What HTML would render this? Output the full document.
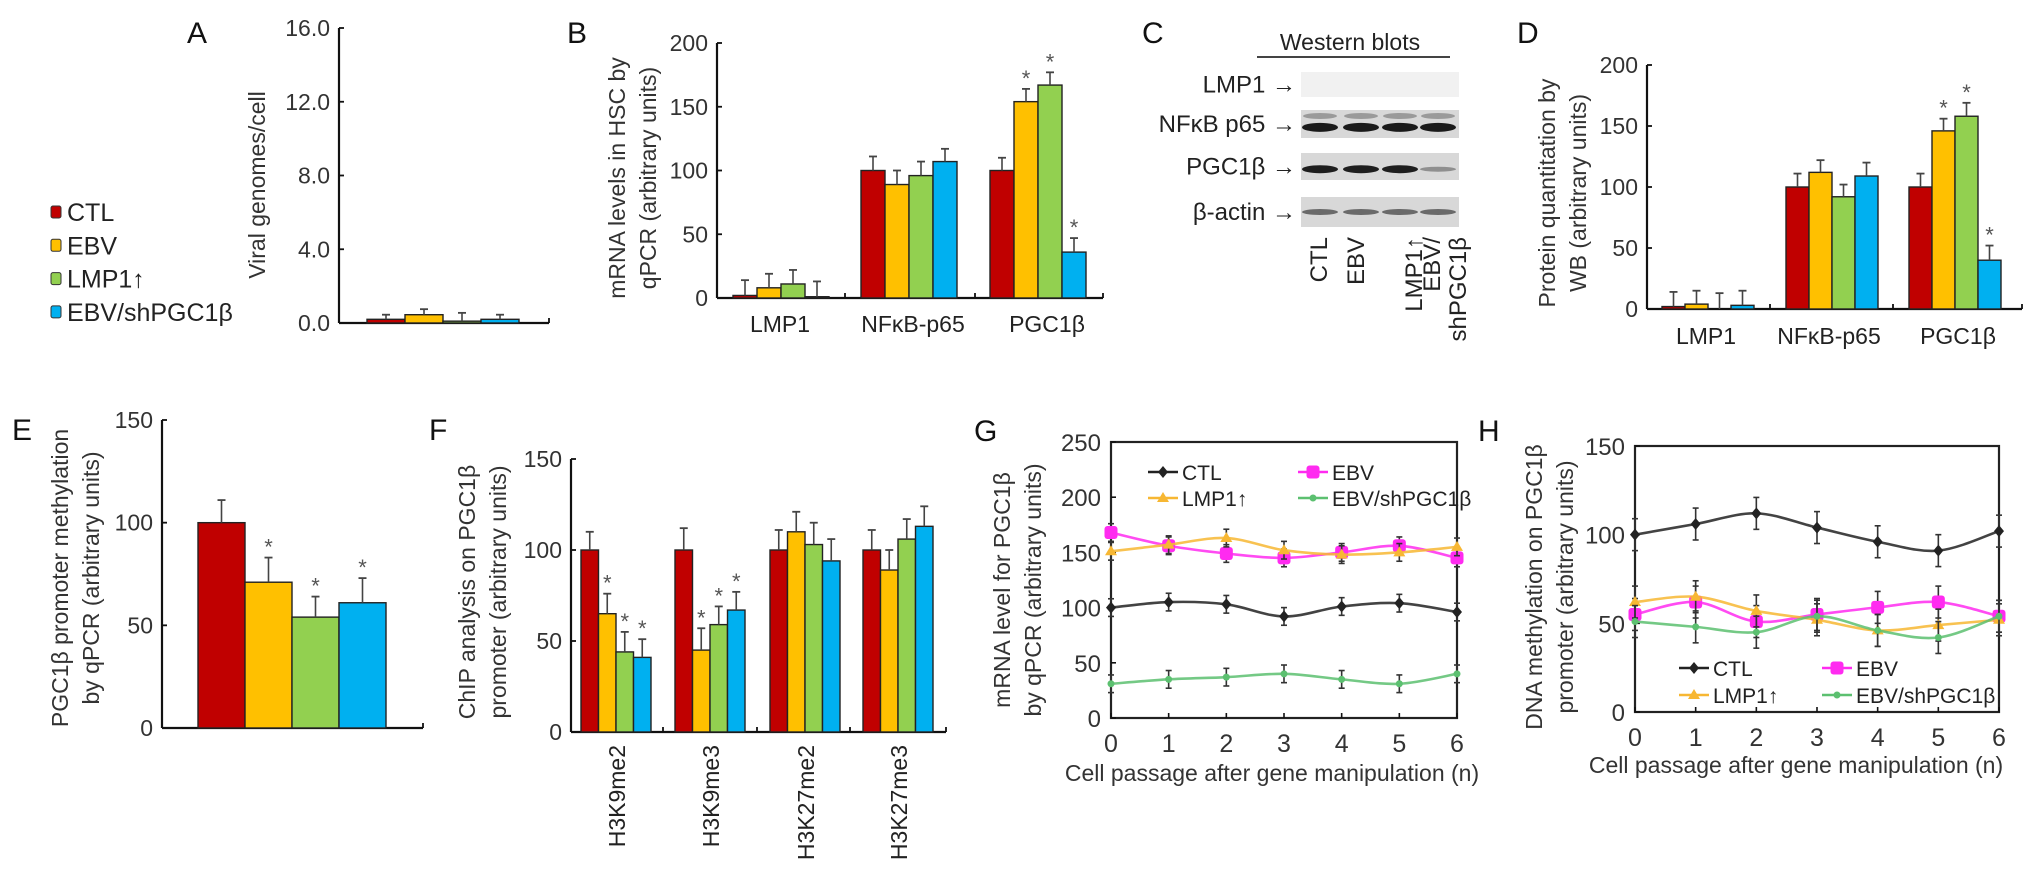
<!DOCTYPE html>
<html><head><meta charset="utf-8"><style>
html,body{margin:0;padding:0;background:#fff;}
svg{display:block;font-family:"Liberation Sans",sans-serif;}
</style></head><body>
<svg id="fig" width="2032" height="876" viewBox="0 0 2032 876" xmlns="http://www.w3.org/2000/svg"></svg>
<script>
const groupNames = ["CTL","EBV","LMP1\u2191","EBV/shPGC1\u03b2"];
const barColors = ["#c00000","#ffc000","#92d050","#00b0f0"];
// Panel A
const aValues = [0.2,0.45,0.1,0.2];
const aErrors = [0.25,0.3,0.45,0.25];
const aTicks = ["0.0","4.0","8.0","12.0","16.0"];
// Panel B
const bCats = ["LMP1","NF\u03baB-p65","PGC1\u03b2"];
const bValues = [[2,8,11,1],[100,89,96,107],[100,154,167,36]];
const bErrors = [[12,11,11,12],[11,11,11,10],[10,10,10,11]];
const bStars = [[0,0,0,0],[0,0,0,0],[0,1,1,1]];
const bTicks = [0,50,100,150,200];
// Panel D
const dValues = [[2,4,0,3],[100,112,92,109],[100,146,158,40]];
const dErrors = [[12,11,13,12],[11,10,10,11],[11,10,11,12]];
const dStars = [[0,0,0,0],[0,0,0,0],[0,1,1,1]];
// Panel E
const eValues = [100,71,54,61];
const eErrors = [11,12,10,12];
const eStars = [0,1,1,1];
const eTicks = [0,50,100,150];
// Panel F
const fCats = ["H3K9me2","H3K9me3","H3K27me2","H3K27me3"];
const fValues = [[100,65,44,41],[100,45,59,67],[100,110,103,94],[100,89,106,113]];
const fErrors = [[10,11,11,10],[12,12,10,10],[11,11,12,12],[11,11,11,11]];
const fStars = [[0,1,1,1],[0,1,1,1],[0,0,0,0],[0,0,0,0]];
// Panel G
const passages = [0,1,2,3,4,5,6];
const gCTL = [100,105,103,92,101,104,96];
const gEBV = [168,156,149,145,150,156,145];
const gLMP = [151,157,163,152,148,150,155];
const gSH = [31,35,37,40,35,31,40];
const gTicks = [0,50,100,150,200,250];
// Panel H
const hCTL = [100,106,112,104,96,91,102];
const hEBV = [55,62,51,55,59,62,54];
const hLMP = [62,65,57,52,46,49,52];
const hSH = [51,48,45,54,46,42,54];
const hTicks = [0,50,100,150];

const NS="http://www.w3.org/2000/svg";
const svg=document.getElementById('fig');
function mk(tag,attrs,parent){const e=document.createElementNS(NS,tag);for(const k in attrs)e.setAttribute(k,attrs[k]);(parent||svg).appendChild(e);return e;}
function txt(s,attrs,parent){const t=mk('text',attrs,parent);t.textContent=s;return t;}
function line(x1,y1,x2,y2,sw,col,p){return mk('line',{x1,y1,x2,y2,stroke:col||'#000','stroke-width':sw||2},p);}

function panelLetter(s,x,y){const t=txt(s,{x,y,'font-size':30,fill:'#111'});

}

function yTitle(lines,x,cy,name){
  lines.forEach((s,i)=>{const xx=x+i*31;const t=txt(s,{x:xx,y:cy,'font-size':23,'text-anchor':'middle',transform:`rotate(-90 ${xx} ${cy})`,fill:'#333'});
  
  });
}
function yAxis(x,yb,yt,max,ticks,labels,name){
  const g=mk('g',{});
  
  
  line(x,yb,x,yt,2.2,'#111',g);
  ticks.forEach((v,i)=>{const y=yb-(v/max)*(yb-yt);line(x,y,x+5,y,1.8,'#111',g);
    const t=txt(labels?labels[i]:String(v),{x:x-9,y:y+8,'font-size':23,'text-anchor':'end',fill:'#333'},g);
    
    });
}
function errBar(x,yTop,yVal,p){line(x,yVal,x,yTop,1.6,'#444',p);line(x-4,yTop,x+4,yTop,1.8,'#444',p);}
function star(x,y,p){const t=txt('*',{x,y,'font-size':22,'text-anchor':'middle',fill:'#555'},p);
  
  }
function drawBars(g,centers,values,errors,stars,w,yb,yt,max){
  const ys=v=>yb-(v/max)*(yb-yt);
  centers.forEach((c,gi)=>{values[gi].forEach((v,i)=>{const x=c+(i-2)*w;
    const r=mk('rect',{x,y:ys(v),width:w,height:yb-ys(v),fill:barColors[i],stroke:'#222','stroke-width':1.4},g);
    
    
    const et=ys(v+errors[gi][i]);errBar(x+w/2,et,ys(v),g);
    if(stars[gi][i])star(x+w/2,et-3,g);});});
}
function xBase(x0,x1,y,ticks,g){line(x0,y,x1,y,2.2,'#111',g);ticks.forEach(x=>line(x,y,x,y-5,1.8,'#111',g));}

// Panel A
panelLetter('A',187,43);
yTitle(['Viral genomes/cell'],265,185,'y-axis-title-a');
yAxis(339,323,28,16,[0,4,8,12,16],aTicks,'y-axis-a');
(function(){const g=mk('g',{});
  
  
  xBase(339,549,323,[549],g);
  drawBars(g,[443],[aValues],[aErrors],[[0,0,0,0]],38,323,28,16);})();
// Legend
groupNames.forEach((n,i)=>{const y=212+i*33.3;
  const r=mk('rect',{x:51,y:y-6,width:10,height:12,rx:2,fill:barColors[i],stroke:'#333','stroke-width':1});
  
  
  const t=txt(n,{x:67,y:y+9,'font-size':25,fill:'#222'});
  
  });

// Panel B
panelLetter('B',567,43);
yTitle(['mRNA levels in HSC by','qPCR (arbitrary units)'],625,178,'y-axis-title-b');
yAxis(717,298,43,200,bTicks,null,'y-axis-b');
(function(){const g=mk('g',{});
  
  
  xBase(717,1103,298,[845,975,1103],g);
  const cs=[781,909,1038];
  drawBars(g,cs,bValues,bErrors,bStars,24,298,43,200);
  const lx=[780,913,1047];
  cs.forEach((c,i)=>{const t=txt(bCats[i],{x:lx[i],y:332,'font-size':23,'text-anchor':'middle',fill:'#222'},g);
    
    });})();

// Panel C (western blot)
panelLetter('C',1142,43);
(function(){const g=mk('g',{});
  
  
  const t0=txt('Western blots',{x:1350,y:50,'font-size':23,'text-anchor':'middle',fill:'#222'},g);
  
  
  line(1257,57,1450,57,2,'#444',g);
  const rows=[['LMP1 \u2192',72,25,0],['NF\u03baB p65 \u2192',110,28,1],['PGC1\u03b2 \u2192',153,27,2],['\u03b2-actin \u2192',197,30,3]];
  const lanes=[1320,1361,1400,1438];
  rows.forEach(r=>{
    const bg=mk('rect',{x:1301,y:r[1],width:158,height:r[2],fill:r[3]==0?'#f1f1f1':'#d8d8d8'},g);
    
    
    const lb=txt(r[0],{x:1296,y:r[1]+r[2]/2+8,'font-size':24,'text-anchor':'end',fill:'#222'},g);
    
    
    lanes.forEach((x,i)=>{let col=null,h=6,yy=r[1]+r[2]/2;
      if(r[3]==1){col='#1a1a1a';h=9;yy=r[1]+r[2]*0.62;mk('ellipse',{cx:x,cy:r[1]+6,rx:17,ry:3,fill:'#9a9a9a'},g);}
      if(r[3]==2){col=i==3?'#8f8f8f':'#1e1e1e';h=i==3?5:8;yy=r[1]+r[2]*0.6;}
      if(r[3]==3){col='#6a6a6a';h=6;}
      if(col){const b=mk('ellipse',{cx:x,cy:yy,rx:18,ry:h/2,fill:col},g);
        
        }});
  });
  const ln=[['CTL',1327],['EBV',1364],['LMP1\u2191',1422],['EBV/',1440],['shPGC1\u03b2',1466]];
  ln.forEach(l=>{const t=txt(l[0],{x:l[1],y:237,'font-size':24,'text-anchor':'end',fill:'#222',transform:`rotate(-90 ${l[1]} 237)`},g);
    
    });
})();

// Panel D
panelLetter('D',1517,43);
yTitle(['Protein quantitation by','WB (arbitrary units)'],1555,193,'y-axis-title-d');
yAxis(1647,309,65,200,bTicks,null,'y-axis-d');
(function(){const g=mk('g',{});
  
  
  xBase(1647,2022,309,[1770,1893,2022],g);
  const cs=[1708,1832,1955];
  drawBars(g,cs,dValues,dErrors,dStars,23,309,65,200);
  const lx=[1706,1829,1958];
  cs.forEach((c,i)=>{const t=txt(bCats[i],{x:lx[i],y:344,'font-size':23,'text-anchor':'middle',fill:'#222'},g);
    
    });})();

// Panel E
panelLetter('E',12,440);
yTitle(['PGC1\u03b2 promoter methylation','by qPCR (arbitrary units)'],68,578,'y-axis-title-e');
yAxis(162,728,420,150,eTicks,null,'y-axis-e');
(function(){const g=mk('g',{});
  
  
  xBase(162,423,728,[423],g);
  drawBars(g,[292],[eValues],[eErrors],[eStars],47,728,420,150);})();

// Panel F
panelLetter('F',429,440);
yTitle(['ChIP analysis on PGC1\u03b2','promoter (arbitrary units)'],475,592,'y-axis-title-f');
yAxis(571,732,459,150,eTicks,null,'y-axis-f');
(function(){const g=mk('g',{});
  
  
  xBase(571,946,732,[663,757,850,946],g);
  const cs=[616,710,805,898];
  drawBars(g,cs,fValues,fErrors,fStars,17.5,732,459,150);
  cs.forEach((c,i)=>{const t=txt(fCats[i],{x:c+9,y:745,'font-size':23,'text-anchor':'end',fill:'#222',transform:`rotate(-90 ${c+9} 745)`},g);
    
    });})();

// Line charts
const lineColors=['#222','#ff2bf0','#f7b733','#5cc070'];
const lineNames=['CTL','EBV','LMP1\u2191','EBV/shPGC1\u03b2'];
function smooth(pts){let d=`M${pts[0][0]},${pts[0][1]}`;
  for(let i=0;i<pts.length-1;i++){const p0=pts[i-1]||pts[i],p1=pts[i],p2=pts[i+1],p3=pts[i+2]||p2;
    d+=` C${p1[0]+(p2[0]-p0[0])/6},${p1[1]+(p2[1]-p0[1])/6} ${p2[0]-(p3[0]-p1[0])/6},${p2[1]-(p3[1]-p1[1])/6} ${p2[0]},${p2[1]}`;}
  return d;}
function marker(k,x,y,g){let m;
  if(k==0)m=mk('polygon',{points:`${x},${y-6} ${x+5},${y} ${x},${y+6} ${x-5},${y}`,fill:lineColors[0]},g);
  else if(k==1)m=mk('rect',{x:x-6.5,y:y-6.5,width:13,height:13,rx:3,fill:lineColors[1]},g);
  else if(k==2)m=mk('polygon',{points:`${x},${y-6} ${x+6},${y+4} ${x-6},${y+4}`,fill:lineColors[2]},g);
  else m=mk('circle',{cx:x,cy:y,r:3.5,fill:lineColors[3]},g);
  
  }
function lineChart(o){
  const g=mk('g',{});
  
  
  const X=n=>o.x0+n*(o.x1-o.x0)/6, Y=v=>o.yb-v/o.max*(o.yb-o.yt);
  const fr=mk('rect',{x:o.x0,y:o.yt,width:o.x1-o.x0,height:o.yb-o.yt,fill:'none',stroke:'#222','stroke-width':2.2},g);
  
  
  o.ticks.forEach(v=>{line(o.x0,Y(v),o.x0+5,Y(v),1.6,'#111',g);
    const t=txt(String(v),{x:o.x0-10,y:Y(v)+9,'font-size':24,'text-anchor':'end',fill:'#333'},g);
    
    });
  passages.forEach(n=>{line(X(n),o.yb,X(n),o.yb-5,1.6,'#111',g);
    const t=txt(String(n),{x:X(n),y:o.lblY,'font-size':25,'text-anchor':'middle',fill:'#333'},g);
    
    });
  const xt=txt('Cell passage after gene manipulation (n)',{x:o.titleX,y:o.titleY,'font-size':23,'text-anchor':'middle',fill:'#333'},g);
  
  
  o.series.forEach((s,k)=>{
    const p=mk('path',{d:smooth(s.map((v,i)=>[X(passages[i]),Y(v)])),fill:'none',stroke:lineColors[k],'stroke-width':2.6,opacity:0.85},g);
    
    
    s.forEach((v,i)=>{const e=o.err,x=X(passages[i]);
      const eb=mk('g',{},g);
      
      
      line(x,Y(v+e),x,Y(v-e),1.6,'#333',eb);line(x-3,Y(v+e),x+3,Y(v+e),1.6,'#333',eb);line(x-3,Y(v-e),x+3,Y(v-e),1.6,'#333',eb);
      marker(k,x,Y(v),g);});
  });
  o.legend.forEach((L,k)=>{const x=L[0],y=L[1];
    line(x,y,x+30,y,2.4,lineColors[k],g);marker(k,x+15,y,g);
    const t=txt(lineNames[k],{x:x+34,y:y+8,'font-size':21,fill:'#222'},g);
    
    });
}
panelLetter('G',974,441);
yTitle(['mRNA level for PGC1\u03b2','by qPCR (arbitrary units)'],1010,590,'y-axis-title-g');
lineChart({name:'chart-g',x0:1111,x1:1457,yt:442,yb:718,max:250,ticks:gTicks,series:[gCTL,gEBV,gLMP,gSH],err:8,
  lblY:752,titleX:1272,titleY:781,
  legend:[[1148,472],[1298,472],[1148,498],[1298,498]]});
panelLetter('H',1478,441);
yTitle(['DNA methylation on PGC1\u03b2','promoter (arbitrary units)'],1542,587,'y-axis-title-h');
lineChart({name:'chart-h',x0:1635,x1:1999,yt:446,yb:712,max:150,ticks:hTicks,series:[hCTL,hEBV,hLMP,hSH],err:9,
  lblY:746,titleX:1796,titleY:773,
  legend:[[1679,668],[1822,668],[1679,695],[1822,695]]});
</script>
</body></html>
